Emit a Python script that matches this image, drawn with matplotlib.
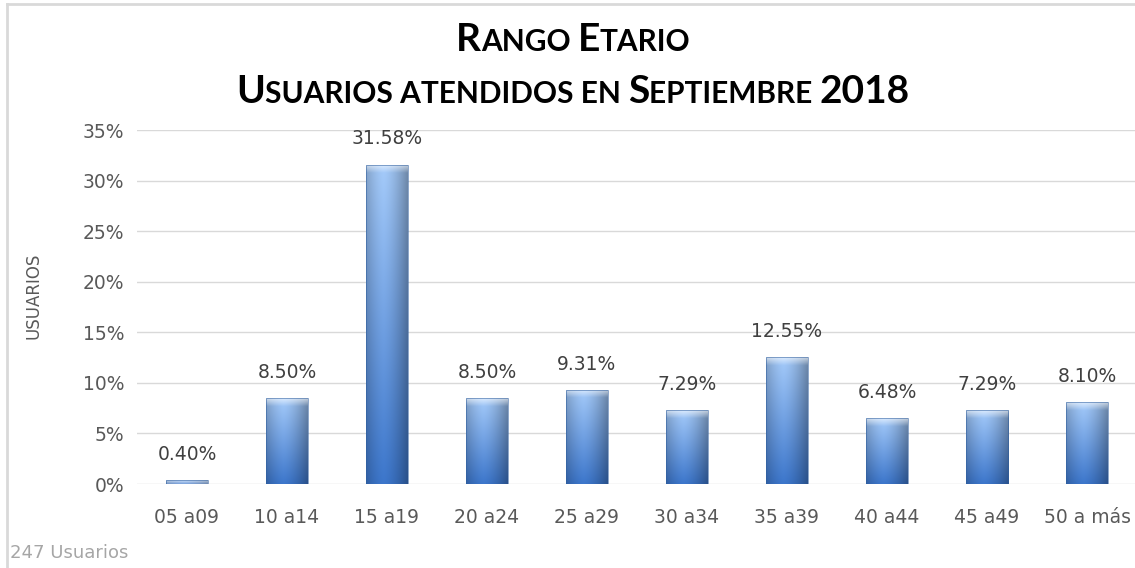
import numpy as np
import matplotlib
matplotlib.use("Agg")
import matplotlib.pyplot as plt
from matplotlib.patches import Rectangle
from matplotlib.lines import Line2D

categories = ["05 a09", "10 a14", "15 a19", "20 a24", "25 a29",
              "30 a34", "35 a39", "40 a44", "45 a49", "50 a más"]
values = [0.40, 8.50, 31.58, 8.50, 9.31, 7.29, 12.55, 6.48, 7.29, 8.10]
y_ticks = [0, 5, 10, 15, 20, 25, 30, 35]
footer = "247 Usuarios"

W, H = 1135, 568
fig = plt.figure(figsize=(W / 100, H / 100), dpi=100)
ax = fig.add_axes([137 / W, 1 - 484 / H, 998 / W, 354 / H])

x = np.arange(len(categories))
bars = ax.bar(x, values, width=0.42, color="none", edgecolor="none", zorder=3)

# gradient fill for each bar (light top, darker bottom, shaded edges)
top_c = np.array([165, 203, 250]) / 255
bot_c = np.array([60, 118, 203]) / 255
ny, nx = 200, 60
tv = np.linspace(0, 1, ny)[:, None]          # 0 top -> 1 bottom
hx = np.linspace(0, 1, nx)[None, :]
shade = 1 - 0.32 * (np.abs(hx - 0.42) / 0.58) ** 1.5
for b in bars:
    h = b.get_height()
    x0 = b.get_x()
    w = b.get_width()
    base = top_c[None, None, :] * (1 - tv[..., None]) + bot_c[None, None, :] * tv[..., None]
    img = base * shade[..., None]
    # light bevel at the top
    bevel_px = 8
    bev = np.clip(1 - np.linspace(0, 1, ny)[:, None] * (354 * h / 35) / bevel_px, 0, 1)
    img = img + (1 - img) * (0.6 * bev[..., None])
    img = np.clip(img, 0, 1)
    im = ax.imshow(img, extent=[x0, x0 + w, 0, h], aspect="auto",
                   interpolation="bilinear", zorder=3)
    im.set_clip_path(b)
    ax.add_patch(Rectangle((x0, 0), w, h, fill=False, edgecolor="#2f5f9f",
                           linewidth=0.7, alpha=0.55, zorder=4))
    ax.text(b.get_x() + w / 2, h + 1.6, f"{h:.2f}%", ha="center", va="bottom",
            fontsize=13.5, color="#404040", zorder=5)

ax.set_xlim(-0.5, 9.48)
ax.set_ylim(0, 35)
ax.set_yticks(y_ticks)
ax.set_yticklabels([f"{t}%" for t in y_ticks])
ax.set_xticks(x)
ax.set_xticklabels(categories)
ax.tick_params(axis="both", colors="#595959", labelsize=13.5, length=0)
ax.tick_params(axis="y", pad=9)
ax.tick_params(axis="x", pad=17)
ax.grid(axis="y", color="#d9d9d9", linewidth=1, zorder=0)
for s in ax.spines.values():
    s.set_visible(False)
ax.set_axisbelow(True)

fig.text(33 / W, 1 - 296 / H, "USUARIOS", rotation=90, ha="center", va="center",
         fontsize=12, color="#595959")
fig.text(10 / W, 1 - 553 / H, footer, ha="left", va="center",
         fontsize=13, color="#a6a6a6")

# chart border (left and top only are visible)
fig.lines.append(Line2D([7 / W, 7 / W], [0, 1 - 4 / H], transform=fig.transFigure,
                        color="#d9d9d9", linewidth=2))
fig.lines.append(Line2D([7 / W, 1], [1 - 4 / H, 1 - 4 / H], transform=fig.transFigure,
                        color="#d9d9d9", linewidth=2))


def small_caps(pieces, cx, y, big=28, small=21.5):
    texts = []
    for s, is_big in pieces:
        t = fig.text(0, y, s, ha="left", va="baseline", fontsize=big if is_big else small,
                     fontweight="bold", family="Lato", color="black")
        texts.append(t)
    r = fig.canvas.get_renderer()
    widths = [t.get_window_extent(r).width for t in texts]
    total = sum(widths)
    pos = cx * W - total / 2
    for t, w in zip(texts, widths):
        t.set_x(pos / W)
        pos += w


small_caps([("R", True), ("ANGO ", False), ("E", True), ("TARIO", False)],
           0.505, 1 - 51 / H)
small_caps([("U", True), ("SUARIOS ATENDIDOS EN ", False), ("S", True),
            ("EPTIEMBRE ", False), ("2018", True)], 0.505, 1 - 103 / H)

fig.savefig("out.png", dpi=100)
